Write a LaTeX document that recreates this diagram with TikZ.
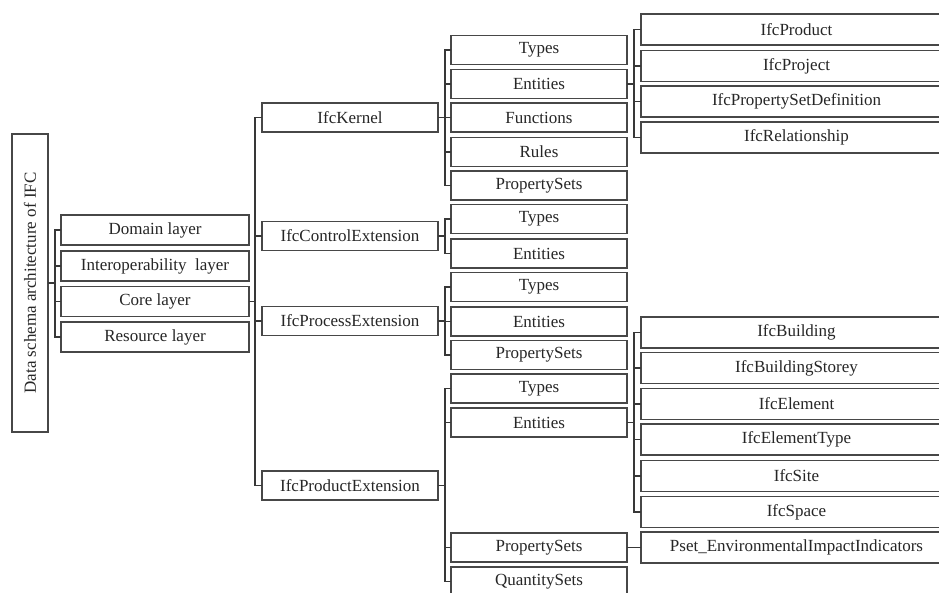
\documentclass[tikz,border=0pt]{standalone}
\usepackage{fontspec}
\setmainfont{Liberation Serif}
\begin{document}
\begin{tikzpicture}[x=1pt,y=-1pt,
  every node/.style={inner sep=0pt, outer sep=0pt},
  box/.style={draw=black!72, line width=1.4pt, fill=white, text=black!85,
    font=\fontsize{17}{20}\selectfont, anchor=center},
  layerbox/.style={box, minimum width=188, minimum height=30},
  extbox/.style={box, minimum width=176, minimum height=29},
  partbox/.style={box, minimum width=176, minimum height=29},
  classbox/.style={box, minimum width=311, minimum height=31},
  link/.style={draw=black!78, line width=1.4pt}]
\clip (0,0) rectangle (939,593);
\fill[white] (0,0) rectangle (939,593);

% root
\node[box, minimum width=36, minimum height=298] (root) at (30,283)
  {\rotatebox{90}{Data schema architecture of IFC}};

% layers
\node[layerbox] (dom)  at (155,230)   {Domain layer};
\node[layerbox] (intr) at (155,266)   {Interoperability\ \ layer};
\node[layerbox] (core) at (155,301.5) {Core layer};
\node[layerbox] (res)  at (155,337)   {Resource layer};

% core layer schemas
\node[extbox] (kern) at (350,117.5) {IfcKernel};
\node[extbox] (ctrl) at (350,236)   {IfcControlExtension};
\node[extbox] (proc) at (350,321)   {IfcProcessExtension};
\node[extbox] (prod) at (350,485.5) {IfcProductExtension};

% schema parts
\node[partbox] (kty) at (539,50)    {Types};
\node[partbox] (ken) at (539,84)    {Entities};
\node[partbox] (kfu) at (539,117.5) {Functions};
\node[partbox] (kru) at (539,152)   {Rules};
\node[partbox] (kps) at (539,185.5) {PropertySets};
\node[partbox] (cty) at (539,219)   {Types};
\node[partbox] (cen) at (539,253.5) {Entities};
\node[partbox] (pty) at (539,287)   {Types};
\node[partbox] (pen) at (539,321.5) {Entities};
\node[partbox] (pps) at (539,355)   {PropertySets};
\node[partbox] (dty) at (539,388.5) {Types};
\node[partbox] (den) at (539,422.5) {Entities};
\node[partbox] (dps) at (539,547.5) {PropertySets};
\node[partbox] (dqs) at (539,581.5) {QuantitySets};

% entity classes
\node[classbox] (e1) at (796.5,29.5)  {IfcProduct};
\node[classbox] (e2) at (796.5,66)    {IfcProject};
\node[classbox] (e3) at (796.5,101.5) {IfcPropertySetDefinition};
\node[classbox] (e4) at (796.5,137.5) {IfcRelationship};
\node[classbox] (b1) at (796.5,332.5) {IfcBuilding};
\node[classbox] (b2) at (796.5,368)   {IfcBuildingStorey};
\node[classbox] (b3) at (796.5,404)   {IfcElement};
\node[classbox] (b4) at (796.5,439.5) {IfcElementType};
\node[classbox] (b5) at (796.5,476)   {IfcSite};
\node[classbox] (b6) at (796.5,512)   {IfcSpace};
\node[classbox] (ps) at (796.5,547.5) {Pset\_EnvironmentalImpactIndicators};

% tree connectors
\foreach \c in {dom,intr,core,res}
  \draw[link] (root.east) -- ++(7,0) |- (\c.west);
\foreach \c in {kern,ctrl,proc,prod}
  \draw[link] (core.east) -- ++(6,0) |- (\c.west);
\foreach \c in {kty,ken,kfu,kru,kps}
  \draw[link] (kern.east) -- ++(7,0) |- (\c.west);
\foreach \c in {cty,cen}
  \draw[link] (ctrl.east) -- ++(7,0) |- (\c.west);
\foreach \c in {pty,pen,pps}
  \draw[link] (proc.east) -- ++(7,0) |- (\c.west);
\foreach \c in {dty,den,dps,dqs}
  \draw[link] (prod.east) -- ++(7,0) |- (\c.west);
\foreach \c in {e1,e2,e3,e4}
  \draw[link] (ken.east) -- ++(7,0) |- (\c.west);
\foreach \c in {b1,b2,b3,b4,b5,b6}
  \draw[link] (den.east) -- ++(7,0) |- (\c.west);
\draw[link] (dps) -- (ps);
\end{tikzpicture}
\end{document}
